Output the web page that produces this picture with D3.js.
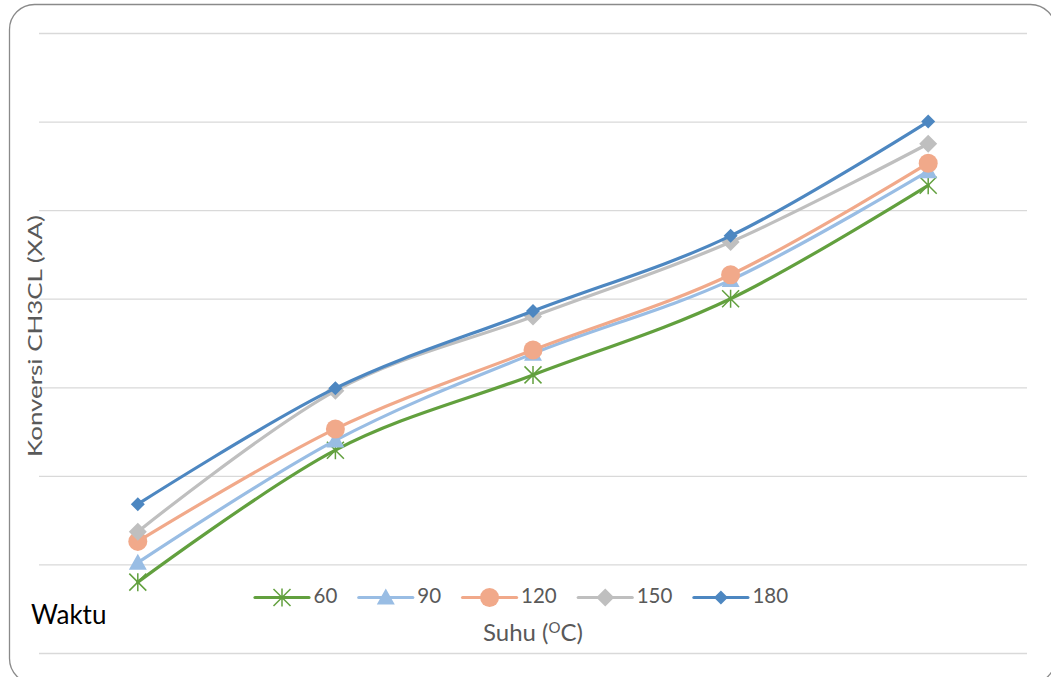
<!DOCTYPE html>
<html>
<head>
<meta charset="utf-8">
<script src="https://cdn.jsdelivr.net/npm/d3@7/dist/d3.min.js"></script>
<style>
  html, body { margin: 0; padding: 0; background: #fff; }
  svg { display: block; }
  text { font-family: Lato, "Open Sans", sans-serif; }
</style>
</head>
<body>
<svg id="chart" width="1051" height="677"></svg>
<script>
// Temperature steps along the x axis (labels are not shown on the chart)
const categories = ["1", "2", "3", "4", "5"];

// Reaction time series (minutes) shown in the legend
const seriesNames = ["60", "90", "120", "150", "180"];

// Conversion of CH3Cl for each time series, per temperature step
const conv60  = [0.080, 0.229, 0.314, 0.400, 0.528];
const conv90  = [0.102, 0.240, 0.338, 0.421, 0.544];
const conv120 = [0.126, 0.253, 0.342, 0.427, 0.553];
const conv150 = [0.137, 0.296, 0.380, 0.464, 0.575];
const conv180 = [0.168, 0.299, 0.386, 0.471, 0.600];

// Gridline values on the y axis
const yTicks = [0, 0.1, 0.2, 0.3, 0.4, 0.5, 0.6, 0.7];

const seriesValues = [conv60, conv90, conv120, conv150, conv180];
const colors  = ["#62a03e", "#99bde4", "#f1a98a", "#bfbfbf", "#4d87c1"];
const markers = ["star", "triangle", "circle", "diamondL", "diamondS"];

const svg = d3.select("#chart");

// Outer chart frame with rounded corners
svg.append("rect")
  .attr("x", 9.5).attr("y", 4.5)
  .attr("width", 1046).attr("height", 679)
  .attr("rx", 25).attr("ry", 25)
  .attr("fill", "#fff")
  .attr("stroke", "#8a8a8a")
  .attr("stroke-width", 1.3);

const plotLeft = 39, plotRight = 1027, plotTop = 33, plotBottom = 653;

const x = d3.scaleBand().domain(categories).range([plotLeft, plotRight]);
const y = d3.scaleLinear().domain([0, 0.7]).range([plotBottom, plotTop]);

// Horizontal gridlines
const grid = svg.append("g")
  .attr("transform", `translate(${plotLeft},0)`)
  .call(d3.axisLeft(y).tickValues(yTicks).tickSize(-(plotRight - plotLeft)).tickFormat(""));
grid.select(".domain").remove();
grid.selectAll(".tick line").attr("stroke", "#d9d9d9").attr("stroke-width", 1.3);

// Marker shapes
function drawMarker(g, type, color) {
  if (type === "star") {
    const r = 9, d = 8.5;
    g.append("path")
      .attr("d", `M0,${-r}L0,${r}M${-d},${-d}L${d},${d}M${-d},${d}L${d},${-d}`)
      .attr("stroke", color).attr("stroke-width", 1.5).attr("fill", "none");
  } else if (type === "triangle") {
    g.append("path").attr("d", "M0,-9L9,7L-9,7Z").attr("fill", color);
  } else if (type === "circle") {
    g.append("circle").attr("r", 9.5).attr("fill", color);
  } else if (type === "diamondL") {
    g.append("path").attr("d", "M0,-9L9,0L0,9L-9,0Z").attr("fill", color);
  } else if (type === "diamondS") {
    g.append("path").attr("d", "M0,-7L7,0L0,7L-7,0Z").attr("fill", color);
  }
}

const line = d3.line()
  .x((d, i) => x(categories[i]) + x.bandwidth() / 2)
  .y(d => y(d))
  .curve(d3.curveCatmullRom.alpha(0));

seriesValues.forEach((vals, s) => {
  const g = svg.append("g");
  g.append("path")
    .datum(vals)
    .attr("d", line)
    .attr("fill", "none")
    .attr("stroke", colors[s])
    .attr("stroke-width", 3.2)
    .attr("stroke-linecap", "round");
  vals.forEach((v, i) => {
    const m = g.append("g")
      .attr("transform", `translate(${x(categories[i]) + x.bandwidth() / 2},${y(v)})`);
    drawMarker(m, markers[s], colors[s]);
  });
});

// Legend, laid out left to right from the measured label widths
const legendY = 597.5, swatchLen = 54, labelGap = 4.5, itemGap = 21.5;
let lx = 255;
seriesNames.forEach((name, s) => {
  const g = svg.append("g").attr("transform", `translate(${lx},${legendY})`);
  g.append("line").attr("x1", 0).attr("x2", swatchLen).attr("y1", 0).attr("y2", 0)
    .attr("stroke", colors[s]).attr("stroke-width", 3.2).attr("stroke-linecap", "round");
  const m = g.append("g").attr("transform", `translate(${swatchLen / 2},0)`);
  drawMarker(m, markers[s], colors[s]);
  const t = g.append("text").attr("x", swatchLen + labelGap).attr("y", 5.5)
    .attr("font-size", 20.5).attr("fill", "#595959").text(name);
  lx += swatchLen + labelGap + t.node().getComputedTextLength() + itemGap;
});

// Axis titles
const xt = svg.append("text")
  .attr("x", 533).attr("y", 641)
  .attr("text-anchor", "middle")
  .attr("font-size", 24).attr("fill", "#595959");
xt.append("tspan").text("Suhu (");
xt.append("tspan").attr("font-size", 15).attr("dy", -8).text("O");
xt.append("tspan").attr("dy", 8).text("C)");

svg.append("text")
  .attr("transform", "translate(42,336) rotate(-90)")
  .attr("text-anchor", "middle")
  .attr("font-size", 19).attr("fill", "#595959")
  .attr("textLength", 242).attr("lengthAdjust", "spacingAndGlyphs")
  .text("Konversi CH3CL (XA)");

svg.append("text")
  .attr("x", 31).attr("y", 624)
  .attr("font-size", 26).attr("fill", "#000")
  .text("Waktu");
</script>
</body>
</html>
